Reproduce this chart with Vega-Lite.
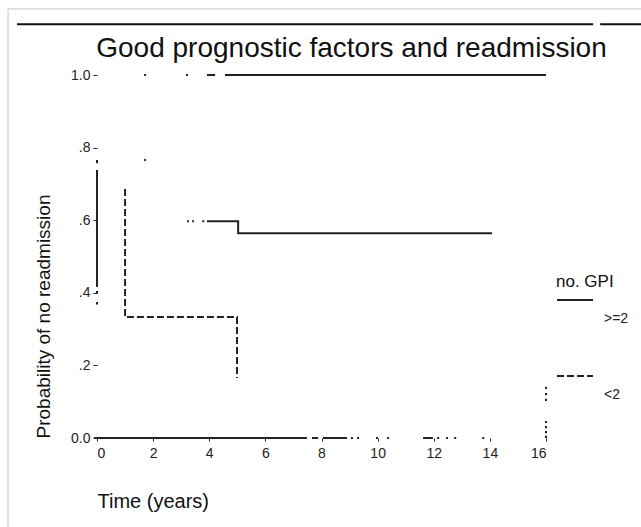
{
  "$schema": "https://vega.github.io/schema/vega-lite/v6.json",
  "autosize": "none",
  "width": 449,
  "height": 363,
  "padding": {"left": 97, "top": 75, "right": 95, "bottom": 89},
  "background": "white",
  "config": {
    "view": {"stroke": null},
    "font": "Liberation Sans"
  },
  "title": {
    "text": "Good prognostic factors and readmission",
    "fontSize": 28,
    "fontWeight": "normal",
    "font": "Liberation Sans",
    "color": "#111",
    "anchor": "middle",
    "frame": "group",
    "dx": 30,
    "baseline": "alphabetic",
    "offset": -78
  },
  "data": {
    "values": [
      {"s": "frame", "g": "f1", "i": 0, "t": -3.17, "p": 1.182},
      {"s": "frame", "g": "f1", "i": 1, "t": 20.2, "p": 1.182},
      {"s": "frame", "g": "f2", "i": 0, "t": -3.17, "p": 1.182},
      {"s": "frame", "g": "f2", "i": 1, "t": -3.17, "p": -0.245},
      {"s": "top", "g": "k1", "i": 0, "t": -2.85, "p": 1.14},
      {"s": "top", "g": "k1", "i": 1, "t": 17.68, "p": 1.14},
      {"s": "top", "g": "k2", "i": 0, "t": 17.93, "p": 1.14},
      {"s": "top", "g": "k2", "i": 1, "t": 20.2, "p": 1.14},
      {"s": "axis", "g": "a1", "i": 0, "t": -0.1, "p": 0},
      {"s": "axis", "g": "a1", "i": 1, "t": 7.48, "p": 0},
      {"s": "axis", "g": "a2", "i": 0, "t": 7.66, "p": 0},
      {"s": "axis", "g": "a2", "i": 1, "t": 7.88, "p": 0},
      {"s": "axis", "g": "a3", "i": 0, "t": 8.05, "p": 0},
      {"s": "axis", "g": "a3", "i": 1, "t": 8.91, "p": 0},
      {"s": "axis", "g": "a4", "i": 0, "t": 9.05, "p": 0},
      {"s": "axis", "g": "a4", "i": 1, "t": 9.12, "p": 0},
      {"s": "axis", "g": "a5", "i": 0, "t": 9.27, "p": 0},
      {"s": "axis", "g": "a5", "i": 1, "t": 9.34, "p": 0},
      {"s": "axis", "g": "a6", "i": 0, "t": 9.94, "p": 0},
      {"s": "axis", "g": "a6", "i": 1, "t": 10.01, "p": 0},
      {"s": "axis", "g": "a7", "i": 0, "t": 10.34, "p": 0},
      {"s": "axis", "g": "a7", "i": 1, "t": 10.41, "p": 0},
      {"s": "axis", "g": "a8", "i": 0, "t": 11.62, "p": 0},
      {"s": "axis", "g": "a8", "i": 1, "t": 11.97, "p": 0},
      {"s": "axis", "g": "a9", "i": 0, "t": 12.12, "p": 0},
      {"s": "axis", "g": "a9", "i": 1, "t": 12.19, "p": 0},
      {"s": "axis", "g": "a10", "i": 0, "t": 12.44, "p": 0},
      {"s": "axis", "g": "a10", "i": 1, "t": 12.51, "p": 0},
      {"s": "axis", "g": "a11", "i": 0, "t": 12.73, "p": 0},
      {"s": "axis", "g": "a11", "i": 1, "t": 12.8, "p": 0},
      {"s": "axis", "g": "a12", "i": 0, "t": 13.73, "p": 0},
      {"s": "axis", "g": "a12", "i": 1, "t": 13.8, "p": 0},
      {"s": ">=2", "g": "s1", "i": 0, "t": 4.56, "p": 1.0},
      {"s": ">=2", "g": "s1", "i": 1, "t": 16.0, "p": 1.0},
      {"s": ">=2", "g": "s2", "i": 0, "t": 1.68, "p": 1.0},
      {"s": ">=2", "g": "s2", "i": 1, "t": 1.75, "p": 1.0},
      {"s": ">=2", "g": "s3", "i": 0, "t": 3.17, "p": 1.0},
      {"s": ">=2", "g": "s3", "i": 1, "t": 3.24, "p": 1.0},
      {"s": ">=2", "g": "s4", "i": 0, "t": 3.92, "p": 1.0},
      {"s": ">=2", "g": "s4", "i": 1, "t": 4.21, "p": 1.0},
      {"s": ">=2", "g": "s5", "i": 0, "t": 0, "p": 0.738},
      {"s": ">=2", "g": "s5", "i": 1, "t": 0, "p": 0.416},
      {"s": ">=2", "g": "s6", "i": 0, "t": 0, "p": 0.766},
      {"s": ">=2", "g": "s6", "i": 1, "t": 0, "p": 0.757},
      {"s": ">=2", "g": "s7", "i": 0, "t": 0, "p": 0.405},
      {"s": ">=2", "g": "s7", "i": 1, "t": 0, "p": 0.398},
      {"s": ">=2", "g": "s8", "i": 0, "t": 0, "p": 0.375},
      {"s": ">=2", "g": "s8", "i": 1, "t": 0, "p": 0.368},
      {"s": ">=2", "g": "s9", "i": 0, "t": 1.68, "p": 0.766},
      {"s": ">=2", "g": "s9", "i": 1, "t": 1.75, "p": 0.766},
      {"s": ">=2", "g": "s10", "i": 0, "t": 3.21, "p": 0.597},
      {"s": ">=2", "g": "s10", "i": 1, "t": 3.28, "p": 0.597},
      {"s": ">=2", "g": "s11", "i": 0, "t": 3.39, "p": 0.597},
      {"s": ">=2", "g": "s11", "i": 1, "t": 3.46, "p": 0.597},
      {"s": ">=2", "g": "s12", "i": 0, "t": 3.75, "p": 0.597},
      {"s": ">=2", "g": "s12", "i": 1, "t": 3.82, "p": 0.597},
      {"s": ">=2", "g": "s13", "i": 0, "t": 3.92, "p": 0.597},
      {"s": ">=2", "g": "s13", "i": 1, "t": 5.03, "p": 0.597},
      {"s": ">=2", "g": "s13", "i": 2, "t": 5.03, "p": 0.564},
      {"s": ">=2", "g": "s13", "i": 3, "t": 14.08, "p": 0.564},
      {"s": "<2", "g": "d1", "i": 0, "t": 1.0, "p": 0.686},
      {"s": "<2", "g": "d1", "i": 1, "t": 1.0, "p": 0.333},
      {"s": "<2", "g": "d1", "i": 2, "t": 4.99, "p": 0.333},
      {"s": "<2", "g": "d1", "i": 3, "t": 4.99, "p": 0.165},
      {"s": "<2", "g": "d2", "i": 0, "t": 16, "p": 0.141},
      {"s": "<2", "g": "d2", "i": 1, "t": 16, "p": 0.135},
      {"s": "<2", "g": "d3", "i": 0, "t": 16, "p": 0.124},
      {"s": "<2", "g": "d3", "i": 1, "t": 16, "p": 0.118},
      {"s": "<2", "g": "d4", "i": 0, "t": 16, "p": 0.108},
      {"s": "<2", "g": "d4", "i": 1, "t": 16, "p": 0.102},
      {"s": "<2", "g": "d5", "i": 0, "t": 16, "p": 0.047},
      {"s": "<2", "g": "d5", "i": 1, "t": 16, "p": 0.041},
      {"s": "<2", "g": "d6", "i": 0, "t": 16, "p": 0.033},
      {"s": "<2", "g": "d6", "i": 1, "t": 16, "p": 0.027},
      {"s": "<2", "g": "d7", "i": 0, "t": 16, "p": 0.019},
      {"s": "<2", "g": "d7", "i": 1, "t": 16, "p": 0.013},
      {"s": "<2", "g": "d8", "i": 0, "t": 16, "p": 0.006},
      {"s": "<2", "g": "d8", "i": 1, "t": 16, "p": 0.0}
    ]
  },
  "encoding": {
    "x": {
      "field": "t",
      "type": "quantitative",
      "scale": {"domain": [0, 16], "nice": false, "zero": false},
      "axis": {
        "title": "Time (years)",
        "values": [0, 2, 4, 6, 8, 10, 12, 14, 16],
        "domain": false,
        "grid": false,
        "tickSize": 3,
        "tickColor": "#222",
        "labelColor": "#222",
        "labelFontSize": 14,
        "labelPadding": 5,
        "labelFont": "Liberation Sans",
        "titleFont": "Liberation Sans",
        "titleFontSize": 20,
        "titleFontWeight": "normal",
        "titleColor": "#111",
        "titleAnchor": "start",
        "titlePadding": 31
      }
    },
    "y": {
      "field": "p",
      "type": "quantitative",
      "scale": {"domain": [0, 1], "nice": false, "zero": false},
      "axis": {
        "title": "Probability of no readmission",
        "values": [0, 0.2, 0.4, 0.6, 0.8, 1],
        "labelExpr": "datum.value == 0 || datum.value == 1 ? format(datum.value, '.1f') : replace(format(datum.value, '.1f'), '0.', '.')",
        "domain": false,
        "grid": false,
        "tickSize": 4,
        "tickColor": "#222",
        "labelColor": "#222",
        "labelFontSize": 14,
        "labelPadding": 3,
        "labelFont": "Liberation Sans",
        "titleFont": "Liberation Sans",
        "titleFontSize": 19,
        "titleFontWeight": "normal",
        "titleColor": "#111",
        "titleAnchor": "start",
        "titlePadding": 17
      }
    },
    "detail": {"field": "g"},
    "order": {"field": "i", "type": "quantitative"}
  },
  "layer": [
    {
      "transform": [{"filter": "datum.s == 'frame'"}],
      "mark": {"type": "line", "color": "#c4c4c4", "strokeWidth": 1, "clip": false}
    },
    {
      "transform": [{"filter": "datum.s == 'top'"}],
      "mark": {"type": "line", "color": "#111", "strokeWidth": 2, "clip": false}
    },
    {
      "transform": [{"filter": "datum.s == 'axis'"}],
      "mark": {"type": "line", "color": "#222", "strokeWidth": 2, "clip": false}
    },
    {
      "transform": [{"filter": "datum.s == '>=2' || datum.s == '<2'"}],
      "mark": {"type": "line", "color": "#222", "strokeWidth": 2, "clip": false},
      "encoding": {
        "strokeDash": {
          "field": "s",
          "type": "nominal",
          "scale": {"domain": [">=2", "<2"], "range": [[1, 0], [7, 3]]},
          "legend": {
            "title": "no. GPI",
            "orient": "none",
            "legendX": 459,
            "legendY": 199,
            "titleFont": "Liberation Sans",
            "titleFontSize": 17,
            "titleFontWeight": "normal",
            "titleColor": "#111",
            "titlePadding": -10,
            "labelFont": "Liberation Sans",
            "labelFontSize": 14,
            "labelColor": "#222",
            "labelOffset": 10,
            "symbolType": "stroke",
            "symbolSize": 1296,
            "symbolStrokeWidth": 2,
            "symbolStrokeColor": "#222",
            "rowPadding": 31,
            "encode": {"labels": {"update": {"dy": {"value": 19}}}}
          }
        }
      }
    }
  ]
}
